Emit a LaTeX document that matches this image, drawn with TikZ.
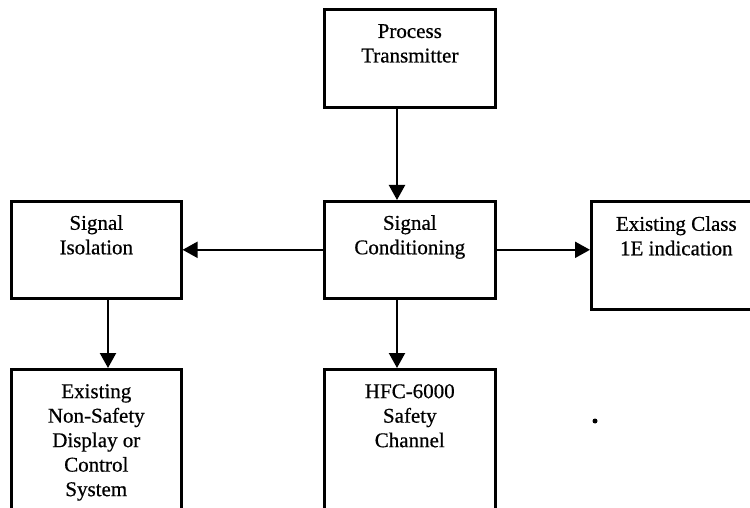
\documentclass[tikz,border=0pt]{standalone}
\usepackage{fontspec}
\setmainfont{Liberation Serif}
\newfontfamily\scanfont{Liberation Serif}[FakeBold=0.6]
\usetikzlibrary{arrows.meta}
\begin{document}
\begin{tikzpicture}[x=1pt,y=-1pt,
  box/.style={draw=black,line width=2.6pt,rectangle,anchor=north west,inner sep=0pt},
  lbl/.style={anchor=north,align=center,inner sep=0pt,font=\scanfont\fontsize{21}{24.5}\selectfont},
  arr/.style={line width=2.2pt,-{Triangle[length=15pt,width=16pt]}}]
\useasboundingbox (0,0) rectangle (750,508);
\clip (0,0) rectangle (750,508);
\fill[white] (0,0) rectangle (750,508);
% boxes
\node[box,minimum width=171pt,minimum height=98pt] (pt) at (323,8) {};
\node[box,minimum width=171pt,minimum height=97pt] (sc) at (323,200) {};
\node[box,minimum width=170pt,minimum height=97pt] (si) at (10,200) {};
\node[box,minimum width=180pt,minimum height=108pt] (ev) at (590,200) {};
\node[box,minimum width=170pt,minimum height=160pt] (ns) at (10,368) {};
\node[box,minimum width=171pt,minimum height=160pt] (hf) at (323,368) {};
% labels
\node[lbl] (tpt) at ([yshift=-16pt]pt.north) {Process\\Transmitter};
\node[lbl] (tsc) at ([yshift=-15pt]sc.north) {Signal\\Conditioning};
\node[lbl] (tsi) at ([yshift=-15pt]si.north) {Signal\\Isolation};
\node[lbl] (tev) at ([xshift=-5pt,yshift=-16pt]ev.north) {Existing Class\\1E indication};
\node[lbl] (tns) at ([yshift=-16pt]ns.north) {Existing\\Non-Safety\\Display or\\Control\\System};
\node[lbl] (thf) at ([yshift=-16pt]hf.north) {HFC-6000\\Safety\\Channel};
% connectors
\coordinate (cx) at (397,0);
\coordinate (lx) at (108,0);
\draw[arr] (pt.south -| cx) -- (sc.north -| cx);
\draw[arr] (sc.west) -- (si.east);
\draw[arr] (sc.east) -- (ev.west |- sc.east);
\draw[arr] (si.south -| lx) -- (ns.north -| lx);
\draw[arr] (sc.south -| cx) -- (hf.north -| cx);
% stray dot
\fill (595,421) circle (2.5pt);
\end{tikzpicture}
\end{document}
